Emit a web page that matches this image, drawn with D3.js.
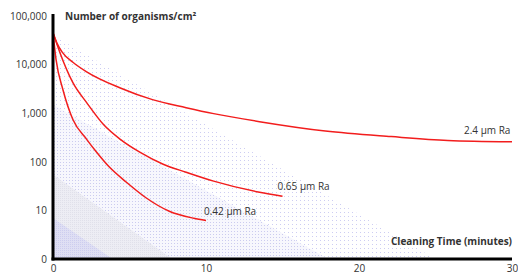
<!DOCTYPE html>
<html>
<head>
<meta charset="utf-8">
<script src="https://cdn.jsdelivr.net/npm/d3@7"></script>
<style>
  body { margin: 0; background: #fff; }
  text { font-family: "Open Sans", "Noto Sans", sans-serif; fill: #333; }
</style>
</head>
<body>
<svg id="chart"></svg>
<script>
// cleaning time (minutes) vs organisms/cm2
const ra24_t = [0, 0.25, 0.6, 1.3, 2.2, 4.4, 6.5, 8.7, 10.5, 13.5, 17.8, 22.1, 25.8, 30]
const ra24_v = [45000, 28000, 18000, 11200, 7100, 3300, 1900, 1300, 980, 670, 430, 330, 275, 258]

const ra065_t = [0, 0.46, 1.3, 2.2, 3.3, 4.4, 5.7, 7.2, 8.7, 10.5, 13.5, 15]
const ra065_v = [45000, 17400, 4250, 1650, 585, 290, 156, 89, 61, 40, 23.6, 19.6]

const ra042_t = [0, 0.2, 0.65, 1.3, 2.2, 2.8, 3.7, 4.8, 6.1, 7.6, 9.2, 10]
const ra042_v = [45000, 12600, 3040, 740, 290, 165, 77, 38, 18, 9.6, 6.9, 6.2]

const seriesNames = ["2.4 \u00b5m Ra", "0.65 \u00b5m Ra", "0.42 \u00b5m Ra"]

const yTicks = [1, 10, 100, 1000, 10000, 100000]
const yTickLabels = ["0", "10", "100", "1,000", "10,000", "100,000"]
const xTicks = [0, 10, 20, 30]

// shaded background bands: value where band meets the y axis, minute where it meets the x axis
const bandTop = [40000, 1500, 55, 7]
const bandEnd = [25, 18, 7.8, 3.9]

const width = 518, height = 275
const svg = d3.select("#chart").attr("width", width).attr("height", height)

const x = d3.scaleLinear().domain([0, 30]).range([53, 512])
const y = d3.scaleLog().domain([1, 100000]).range([259, 16])

// patterns for the bands
const defs = svg.append("defs")
function dotPattern(id, size, dot, color, bg){
     const p = defs.append("pattern").attr("id", id)
          .attr("patternUnits", "userSpaceOnUse")
          .attr("width", size).attr("height", size)
     if(bg) p.append("rect").attr("width", size).attr("height", size).attr("fill", bg)
     p.append("rect").attr("width", dot).attr("height", dot).attr("fill", color)
}
dotPattern("p0", 4, 1, "#cdcdf2", null)
dotPattern("p1", 3, 1, "#cbcbef", "#f7f7fd")
dotPattern("p2", 2, 1, "#e0e0ea", "#ededf4")
dotPattern("p3", 2, 1, "#cdcdef", "#dfdff4")
const bandFills = ["url(#p0)", "url(#p1)", "url(#p2)", "url(#p3)"]

svg.append("g").attr("class", "bands")
     .selectAll("path")
     .data(bandTop.map((v, i) => ({top: v, end: bandEnd[i], fill: bandFills[i]})))
     .enter().append("path")
          .attr("d", d => "M" + x(0) + "," + y(1) + "L" + x(0) + "," + y(d.top) + "L" + x(d.end) + "," + y(1) + "Z")
          .attr("fill", d => d.fill)

// curves
const series = [
     {name: seriesNames[0], t: ra24_t, v: ra24_v, dx: -48, dy: -10},
     {name: seriesNames[1], t: ra065_t, v: ra065_v, dx: -5, dy: -9},
     {name: seriesNames[2], t: ra042_t, v: ra042_v, dx: -2, dy: -8}
]
const line = d3.line()
     .x(d => x(d[0]))
     .y(d => y(d[1]))
     .curve(d3.curveMonotoneX)

svg.append("g").attr("class", "curves")
     .selectAll("path")
     .data(series)
     .enter().append("path")
          .attr("d", d => line(d.t.map((t, i) => [t, d.v[i]])))
          .attr("fill", "none")
          .attr("stroke", "#f21d1d")
          .attr("stroke-width", 1.5)

svg.append("g").attr("class", "labels")
     .selectAll("text")
     .data(series)
     .enter().append("text")
          .attr("x", d => x(d.t[d.t.length - 1]) + d.dx)
          .attr("y", d => y(d.v[d.v.length - 1]) + d.dy)
          .attr("font-size", 10)
          .attr("dominant-baseline", "middle")
          .text(d => d.name)

// axes
const yAxis = d3.axisLeft(y).tickValues(yTicks).tickSize(0).tickPadding(6)
     .tickFormat((d, i) => yTickLabels[i])
const gy = svg.append("g").attr("transform", "translate(" + x(0) + ",0)").call(yAxis)
gy.select(".domain").remove()
gy.selectAll("text").attr("font-size", 10).attr("fill", "#333")
     .attr("font-family", "'Open Sans', sans-serif")

const xAxis = d3.axisBottom(x).tickValues(xTicks).tickSize(0).tickPadding(6)
const gx = svg.append("g").attr("transform", "translate(0," + y(1) + ")").call(xAxis)
gx.select(".domain").remove()
gx.selectAll("text").attr("font-size", 10).attr("fill", "#333")
     .attr("font-family", "'Open Sans', sans-serif")

svg.append("line")
     .attr("x1", x(0)).attr("x2", x(0))
     .attr("y1", 14).attr("y2", y(1) + 1.5)
     .attr("stroke", "#000").attr("stroke-width", 3)
svg.append("line")
     .attr("x1", x(0) - 1.5).attr("x2", x(30))
     .attr("y1", y(1)).attr("y2", y(1))
     .attr("stroke", "#000").attr("stroke-width", 3)

svg.append("text")
     .attr("x", 65).attr("y", 17)
     .attr("font-size", 10).attr("font-weight", "bold")
     .attr("dominant-baseline", "middle")
     .text("Number of organisms/cm\u00b2")

svg.append("text")
     .attr("x", 512).attr("y", 242)
     .attr("font-size", 10).attr("font-weight", "bold")
     .attr("text-anchor", "end")
     .attr("dominant-baseline", "middle")
     .text("Cleaning Time (minutes)")
</script>
</body>
</html>
